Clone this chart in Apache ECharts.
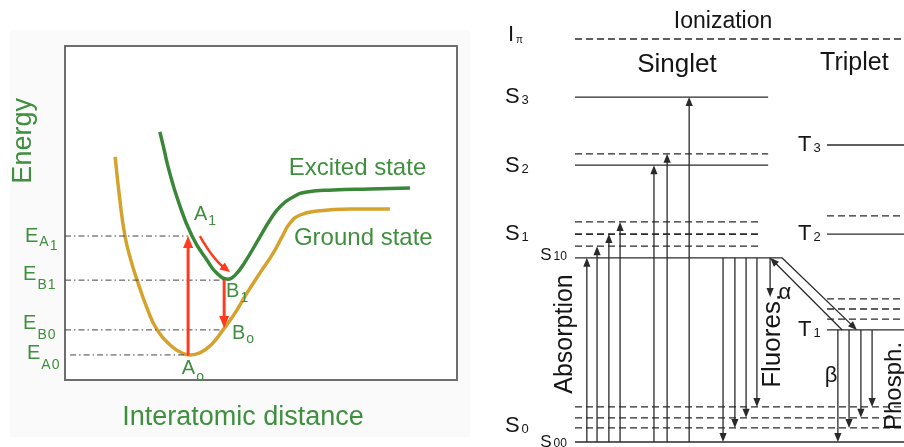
<!DOCTYPE html>
<html><head><meta charset="utf-8">
<script src="https://cdn.jsdelivr.net/npm/echarts@6/dist/echarts.min.js"></script>
<style>html,body{margin:0;padding:0;background:#fff}#c{width:904px;height:447px}</style>
</head><body><div id="c"></div>
<script>
// ================= LEFT PANEL DATA (distance units 0..10, energy units 0..10) =================
const groundDistance  = [1.28,1.40,1.53,1.68,1.84,2.09,2.35,2.68,2.98,3.19,3.44,3.75,4.03,4.34,4.64,4.97,5.31,5.56,5.74,6.00,6.43,7.27,8.29];
const groundEnergy    = [6.68,5.39,4.31,3.59,2.99,2.16,1.50,1.05,0.81,0.75,0.81,1.08,1.50,2.01,2.60,3.20,3.80,4.34,4.70,4.94,5.06,5.12,5.12];
const excitedDistance = [2.42,2.53,2.63,2.88,3.24,3.62,3.90,4.16,4.34,4.59,4.97,5.23,5.48,5.82,6.17,6.84,7.78,8.80];
const excitedEnergy   = [7.43,6.89,6.38,5.39,4.31,3.59,3.17,3.02,3.14,3.53,4.28,4.79,5.18,5.48,5.63,5.69,5.72,5.75];
const levelNames    = ['A1','B1','B0','A0'];
const levelEnergy   = [4.31, 2.99, 1.50, 0.75];
const levelDistance = [3.14, 4.08, 4.00, 3.19];
const absorptionDistance = 3.14;   // A0 -> A1
const emissionDistance   = 4.06;   // B1 -> B0
const emissionEnd        = 1.56;
const relaxFrom = [3.44, 4.31], relaxCtrl = [3.78, 3.62], relaxTo = [4.21, 3.23]; // A1 -> B1

// ================= RIGHT PANEL DATA (position 0..100, energy 0..100) =================
const ionizationEnergy = 100;
const singletLevels    = [85.6, 68.7, 45.7];          // S3, S2, S1 (S10)
const singletVib       = [71.5, 54.6, 51.6, 48.6];
const groundVib        = [8.7, 6.0, 3.5];
const groundLevel      = 0;                           // S00
const tripletLevels    = [73.7, 51.6, 27.8];          // T3, T2, T1
const tripletVib       = [56.1, 35.5, 33.0, 30.5];
const absorptionX      = [3.6, 6.7, 10.3, 13.7, 24.0, 28.0, 34.7];
const absorptionTop    = [45.7, 48.6, 51.6, 54.6, 68.7, 71.5, 85.6];
const fluorescenceX    = [45.0, 48.6, 52.0, 55.3];
const fluorescenceEnd  = [0, 3.5, 6.0, 8.7];
const phosphorX        = [79.9, 83.3, 86.9, 90.3];
const phosphorEnd      = [0, 3.5, 6.0, 8.7];
const alphaX = 59.3, alphaEnd = 36.0;
const iscFrom = [62.9, 45.7], iscTo = [85.7, 27.8];
const riscFrom = [81.2, 27.8], riscTo = [59.3, 45.7];
const singletEnd = 58.7, singletVibEnd = 56.8, s10End = 62.9, tripletStart = 76.6, panelEnd = 100;

// ================= STYLES =================
const FONT = '"Liberation Sans", Arial, Helvetica, sans-serif';
const GREEN_T = '#3f8f3f', GREEN_C = '#3a873a', GOLD = '#d6a22e', RED = '#ff3b1e';
const INK = '#2a2a2a', TXT = '#151515';

// ---------- left segments ----------
const leftSegs = [];
levelEnergy.forEach((e, i) => leftSegs.push({x1: i === 3 ? 0.13 : 0.0, y1: e, x2: levelDistance[i], y2: e, color: '#444', w: 1, dash: [6, 3, 1.5, 3]}));
leftSegs.push({x1: absorptionDistance, y1: levelEnergy[3], x2: absorptionDistance, y2: levelEnergy[0], color: RED, w: 3, arrow: true, al: 12, aw: 5});
leftSegs.push({x1: emissionDistance, y1: levelEnergy[1], x2: emissionDistance, y2: emissionEnd, color: RED, w: 3, arrow: true, al: 12, aw: 5});

// ---------- right segments ----------
const rightSegs = [];
const D = [7, 4];
rightSegs.push({x1: 0, y1: ionizationEnergy, x2: panelEnd, y2: ionizationEnergy, dash: D});
rightSegs.push({x1: 0, y1: singletLevels[0], x2: singletEnd, y2: singletLevels[0]});
rightSegs.push({x1: 0, y1: singletLevels[1], x2: singletEnd, y2: singletLevels[1]});
rightSegs.push({x1: 0, y1: singletLevels[2], x2: s10End, y2: singletLevels[2]});
singletVib.forEach((e, i) => rightSegs.push({x1: 0, y1: e, x2: i === 0 ? singletEnd : singletVibEnd, y2: e, dash: D, w: i === 2 ? 1.8 : 1.2}));
groundVib.forEach(e => rightSegs.push({x1: 0, y1: e, x2: panelEnd, y2: e, dash: D}));
rightSegs.push({x1: 0, y1: groundLevel, x2: panelEnd, y2: groundLevel});
tripletLevels.forEach(e => rightSegs.push({x1: tripletStart, y1: e, x2: panelEnd, y2: e}));
tripletVib.forEach(e => rightSegs.push({x1: tripletStart, y1: e, x2: panelEnd, y2: e, dash: D}));
absorptionX.forEach((x, i) => rightSegs.push({x1: x, y1: groundLevel, x2: x, y2: absorptionTop[i], arrow: true}));
fluorescenceX.forEach((x, i) => rightSegs.push({x1: x, y1: singletLevels[2], x2: x, y2: fluorescenceEnd[i], arrow: true}));
phosphorX.forEach((x, i) => rightSegs.push({x1: x, y1: tripletLevels[2], x2: x, y2: phosphorEnd[i], arrow: true}));
rightSegs.push({x1: alphaX, y1: singletLevels[2], x2: alphaX, y2: alphaEnd, arrow: true});
rightSegs.push({x1: iscFrom[0], y1: iscFrom[1], x2: iscTo[0], y2: iscTo[1], arrow: true});
rightSegs.push({x1: riscFrom[0], y1: riscFrom[1], x2: riscTo[0], y2: riscTo[1], arrow: true});

function segRender(segs) {
  return function (params, api) {
    const s = segs[params.dataIndex];
    const p1 = api.coord([api.value(0), api.value(1)]);
    const p2 = api.coord([api.value(2), api.value(3)]);
    const color = s.color || INK, w = s.w || 1.3;
    const kids = [];
    let end = p2;
    if (s.arrow) {
      const dx = p2[0] - p1[0], dy = p2[1] - p1[1], L = Math.hypot(dx, dy);
      const ux = dx / L, uy = dy / L, al = s.al || 9, aw = s.aw || 3.6;
      const bx = p2[0] - ux * al, by = p2[1] - uy * al;
      kids.push({type: 'polygon', shape: {points: [[p2[0], p2[1]], [bx - uy * aw, by + ux * aw], [bx + uy * aw, by - ux * aw]]}, style: {fill: color}});
      end = [bx + ux * 2, by + uy * 2];
    }
    kids.push({type: 'line', shape: {x1: p1[0], y1: p1[1], x2: end[0], y2: end[1]}, style: {stroke: color, lineWidth: w, lineDash: s.dash || null}});
    return {type: 'group', children: kids};
  };
}

function curveRender(params, api) {
  const p0 = api.coord([api.value(0), api.value(1)]);
  const c = api.coord([api.value(2), api.value(3)]);
  const p2 = api.coord([api.value(4), api.value(5)]);
  const dx = p2[0] - c[0], dy = p2[1] - c[1], L = Math.hypot(dx, dy), ux = dx / L, uy = dy / L;
  const al = 10, aw = 4.5, bx = p2[0] - ux * al, by = p2[1] - uy * al;
  return {type: 'group', children: [
    {type: 'bezierCurve', shape: {x1: p0[0], y1: p0[1], cpx1: c[0], cpy1: c[1], x2: bx + ux * 2, y2: by + uy * 2}, style: {stroke: RED, lineWidth: 2.5, fill: null}},
    {type: 'polygon', shape: {points: [[p2[0], p2[1]], [bx - uy * aw, by + ux * aw], [bx + uy * aw, by - ux * aw]]}, style: {fill: RED}}
  ]};
}

// ---------- texts ----------
const eRich = (p1, p2) => ({
  m: {fontSize: 20, lineHeight: 20, verticalAlign: 'top', fontFamily: FONT},
  s: {fontSize: 14, lineHeight: 14, verticalAlign: 'top', padding: [p1, 0, 0, 1], fontFamily: FONT},
  t: {fontSize: 14, lineHeight: 14, verticalAlign: 'top', padding: [p2, 0, 0, 1], fontFamily: FONT}
});
const leftTexts = [
  {pos: [-1.07, 7.16], text: 'Energy', size: 27, rot: Math.PI / 2, align: 'center'},
  {pos: [4.54, -1.11], text: 'Interatomic distance', size: 27, align: 'center'},
  {pos: [5.71, 6.35], text: 'Excited state', size: 24},
  {pos: [5.84, 4.25], text: 'Ground state', size: 24},
  {pos: [-1.02, 4.31], text: '{m|E}{s|' + levelNames[0][0] + '}{t|' + levelNames[0][1] + '}', rich: eRich(9, 13)},
  {pos: [-1.07, 3.17], text: '{m|E}{s|' + levelNames[1][0] + '}{t|' + levelNames[1][1] + '}', rich: eRich(14, 14)},
  {pos: [-1.07, 1.68], text: '{m|E}{s|' + levelNames[2][0] + '}{t|' + levelNames[2][1] + '}', rich: eRich(14, 14)},
  {pos: [-0.97, 0.78], text: '{m|E}{s|' + levelNames[3][0] + '}{t|' + levelNames[3][1] + '}', rich: eRich(14, 14)},
  {pos: [3.29, 4.97], text: '{m|A}{t|1}', rich: eRich(10, 10)},
  {pos: [4.11, 2.66], text: '{m|B}{t|1}', rich: eRich(10, 10)},
  {pos: [4.26, 1.38], text: '{m|B}{t|o}', rich: eRich(8, 8)},
  {pos: [2.98, 0.33], text: '{m|A}{t|o}', rich: eRich(11, 11)}
];
const sRich = (big, small) => ({
  m: {fontSize: big, lineHeight: big, verticalAlign: 'bottom', fontFamily: FONT},
  n: {fontSize: small, lineHeight: small, verticalAlign: 'bottom', padding: [0, 0, 1, 2], fontFamily: FONT}
});
const rightTexts = [
  {pos: [45.0, 104.2], text: 'Ionization', size: 23, align: 'center'},
  {pos: [-20.4, 101.0], text: '{m|I}{n|π}', rich: sRich(22, 10)},
  {pos: [31.0, 93.5], text: 'Singlet', size: 26, align: 'center'},
  {pos: [74.5, 94.0], text: 'Triplet', size: 25},
  {pos: [-21.3, 85.6], text: '{m|S}{n|3}', rich: sRich(22, 13)},
  {pos: [-21.3, 68.5], text: '{m|S}{n|2}', rich: sRich(22, 13)},
  {pos: [-21.3, 51.6], text: '{m|S}{n|1}', rich: sRich(22, 13)},
  {pos: [-10.6, 46.4], text: '{m|S}{n|10}', rich: sRich(17, 12)},
  {pos: [-21.3, 4.0], text: '{m|S}{n|0}', rich: sRich(22, 13)},
  {pos: [-10.6, 0.0], text: '{m|S}{n|00}', rich: sRich(17, 12)},
  {pos: [67.8, 73.7], text: '{m|T}{n|3}', rich: sRich(22, 13)},
  {pos: [67.8, 51.6], text: '{m|T}{n|2}', rich: sRich(22, 13)},
  {pos: [67.8, 27.8], text: '{m|T}{n|1}', rich: sRich(22, 13)},
  {pos: [-3.0, 26.8], text: 'Absorption', size: 25, rot: Math.PI / 2, align: 'center'},
  {pos: [60.2, 25.1], text: 'Fluores.', size: 26, rot: Math.PI / 2, align: 'center'},
  {pos: [97.0, 13.9], text: 'Phosph.', size: 24, rot: Math.PI / 2, align: 'center'},
  {pos: [63.8, 37.0], text: 'α', size: 22, align: 'center'},
  {pos: [77.8, 16.4], text: 'β', size: 22, align: 'center'}
];
function textRender(items, color) {
  return function (params, api) {
    const t = items[params.dataIndex];
    const p = api.coord([api.value(0), api.value(1)]);
    return {type: 'text', x: p[0], y: p[1], rotation: t.rot || 0,
      style: {text: t.text, fill: color, fontSize: t.size || 20, fontFamily: FONT,
        align: t.align || 'left', verticalAlign: 'middle', rich: t.rich}};
  };
}

const chart = echarts.init(document.getElementById('c'), null, {renderer: 'canvas'});
chart.setOption({
  animation: false,
  backgroundColor: '#ffffff',
  grid: [
    {left: 10, top: 30, width: 460, height: 407, show: true, backgroundColor: '#fafafa', borderWidth: 0},
    {left: 65, top: 46, width: 392, height: 334, show: true, backgroundColor: '#ffffff', borderColor: '#6e6e6e', borderWidth: 2},
    {left: 575, top: 39, width: 329, height: 403, show: false}
  ],
  xAxis: [
    {gridIndex: 0, type: 'value', min: 0, max: 1, show: false},
    {gridIndex: 1, type: 'value', min: 0, max: 10, show: false},
    {gridIndex: 2, type: 'value', min: 0, max: 100, show: false}
  ],
  yAxis: [
    {gridIndex: 0, type: 'value', min: 0, max: 1, show: false},
    {gridIndex: 1, type: 'value', min: 0, max: 10, show: false},
    {gridIndex: 2, type: 'value', min: 0, max: 100, show: false}
  ],
  series: [
    {type: 'line', xAxisIndex: 1, yAxisIndex: 1, smooth: 0.5, showSymbol: false, symbol: 'none', z: 3,
      data: groundDistance.map((x, i) => [x, groundEnergy[i]]), lineStyle: {color: GOLD, width: 3.5}},
    {type: 'line', xAxisIndex: 1, yAxisIndex: 1, smooth: 0.5, showSymbol: false, symbol: 'none', z: 3,
      data: excitedDistance.map((x, i) => [x, excitedEnergy[i]]), lineStyle: {color: GREEN_C, width: 3.5}},
    {type: 'custom', xAxisIndex: 1, yAxisIndex: 1, z: 4, renderItem: segRender(leftSegs),
      data: leftSegs.map(s => [s.x1, s.y1, s.x2, s.y2])},
    {type: 'custom', xAxisIndex: 1, yAxisIndex: 1, z: 4, renderItem: curveRender,
      data: [[relaxFrom[0], relaxFrom[1], relaxCtrl[0], relaxCtrl[1], relaxTo[0], relaxTo[1]]]},
    {type: 'custom', xAxisIndex: 1, yAxisIndex: 1, z: 5, renderItem: textRender(leftTexts, GREEN_T),
      data: leftTexts.map(t => t.pos)},
    {type: 'custom', xAxisIndex: 2, yAxisIndex: 2, z: 4, renderItem: segRender(rightSegs),
      data: rightSegs.map(s => [s.x1, s.y1, s.x2, s.y2])},
    {type: 'custom', xAxisIndex: 2, yAxisIndex: 2, z: 5, renderItem: textRender(rightTexts, TXT),
      data: rightTexts.map(t => t.pos)}
  ]
});
</script></body></html>
